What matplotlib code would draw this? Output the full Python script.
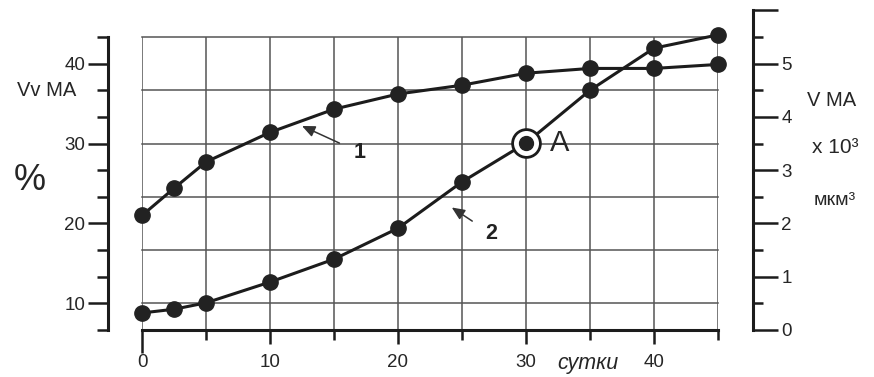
import numpy as np
import matplotlib
matplotlib.use("Agg")
import matplotlib.pyplot as plt

# ---------------- data ----------------
days = [0, 2.5, 5, 10, 15, 20, 25, 30, 35, 40, 45]
vv_ma_percent = [21.0, 24.4, 27.7, 31.4, 34.3, 36.2, 37.3, 38.8, 39.4, 39.4, 39.9]   # curve 1, left axis (%)
v_ma_e3 = [0.32, 0.39, 0.51, 0.90, 1.33, 1.91, 2.78, 3.51, 4.50, 5.29, 5.54]          # curve 2, right axis (x10^3 mkm^3)
highlight_day = 30

x_major = [0, 10, 20, 30, 40]
x_minor = [5, 15, 25, 35, 45]
x_ticklabels = ["0", "10", "20", "30", "40"]
left_major = [10, 20, 30, 40]
left_ticklabels = ["10", "20", "30", "40"]
right_major = [0, 1, 2, 3, 4, 5, 6]
right_ticklabels = ["0", "1", "2", "3", "4", "5", ""]

# ---------------- layout ----------------
W, H = 874, 377
fig = plt.figure(figsize=(W / 100, H / 100), dpi=100)
plt.rcParams['font.family'] = ['Liberation Sans', 'DejaVu Sans']

def fx(px):
    return px / W

def fy(py):
    return 1 - py / H

ax_left_px, ax_right_px = 142, 718
ax_top_px, ax_bot_px = 37, 330
left_lo, left_hi = 20 / 3, 130 / 3
ax = fig.add_axes([fx(ax_left_px), fy(ax_bot_px),
                   fx(ax_right_px - ax_left_px), (ax_bot_px - ax_top_px) / H])
ax.set_xlim(0, 45)
ax.set_ylim(left_lo, left_hi)

ink = '#1c1c1c'
txt = '#262626'
gridc = '#555555'

# grid
for v in np.arange(10, 45, 20 / 3):
    ax.axhline(v, color=gridc, lw=1.1, zorder=1, clip_on=False)
ax.set_xticks(x_major)
ax.set_xticks(x_minor, minor=True)
ax.set_xticklabels(x_ticklabels)
ax.grid(True, axis='x', which='both', color=gridc, lw=1.1, zorder=1)
ax.set_axisbelow(True)

for s in ['top', 'right']:
    ax.spines[s].set_visible(False)
ax.spines['bottom'].set_linewidth(2.2)
ax.spines['bottom'].set_color(ink)
ax.spines['left'].set_position(('outward', 24.5))
ax.spines['left'].set_linewidth(2.2)
ax.spines['left'].set_color(ink)

ax.set_yticks(left_major)
ax.set_yticklabels(left_ticklabels)
ax.set_yticks([v for v in np.arange(left_lo, left_hi + 0.01, 10 / 3)
               if min(abs(v - m) for m in left_major) > 0.1], minor=True)

ax.tick_params(axis='x', which='major', direction='out', length=10, width=1.8,
               color=ink, pad=7.5, labelsize=13.5, labelcolor=txt)
ax.tick_params(axis='x', which='minor', direction='out', length=7, width=1.8, color=ink)
ax.tick_params(axis='y', which='major', direction='out', length=14.5, width=1.8,
               color=ink, pad=2, labelsize=13.5, labelcolor=txt)
ax.tick_params(axis='y', which='minor', direction='out', length=8, width=1.8, color=ink)
ax.xaxis.get_major_ticks()[0].tick1line.set_markersize(16.5)

# curve 1
ax.plot(days, vv_ma_percent, color=ink, lw=2.2, marker='o', ms=11,
        mfc='#222222', mec='#222222', zorder=3, clip_on=False)

# right axis
r_max = 6
r_top_px = ax_bot_px - r_max * (ax_bot_px - ax_top_px) / 5.5
ax2 = fig.add_axes([fx(ax_left_px), fy(ax_bot_px),
                    fx(ax_right_px - ax_left_px), (ax_bot_px - r_top_px) / H])
ax2.patch.set_visible(False)
ax2.set_xlim(0, 45)
ax2.set_ylim(0, r_max)
for s in ['top', 'left', 'bottom']:
    ax2.spines[s].set_visible(False)
ax2.spines['right'].set_position(('outward', 25.2))
ax2.spines['right'].set_linewidth(2.2)
ax2.spines['right'].set_color(ink)
ax2.set_xticks([])
ax2.yaxis.tick_right()
ax2.set_yticks(right_major)
ax2.set_yticklabels(right_ticklabels)
ax2.set_yticks(np.arange(0.5, r_max, 1.0), minor=True)
ax2.tick_params(axis='y', which='major', direction='out', length=18, width=1.8,
                color=ink, pad=2.5, labelsize=13.5, labelcolor=txt)
ax2.tick_params(axis='y', which='minor', direction='out', length=7, width=1.8, color=ink)

ax2.plot(days, v_ma_e3, color=ink, lw=2.2, marker='o', ms=11,
         mfc='#222222', mec='#222222', zorder=3, clip_on=False)
hi = days.index(highlight_day)
ax2.plot(days[hi], v_ma_e3[hi], marker='o', ms=20, mfc='white', mec=ink, mew=2.0, zorder=4)
ax2.plot(days[hi], v_ma_e3[hi], marker='o', ms=10, mfc='#222222', mec='#222222', zorder=5)
ax2.text(days[hi] + 2.6, v_ma_e3[hi], "A", fontsize=21, color=txt,
         ha='center', va='center', zorder=5)

# curve labels with arrows
ax.annotate("1", xy=(12.5, 32.2), xytext=(17.0, 28.9), fontsize=15.5, fontweight='bold',
            color='#222222', ha='center', va='center',
            arrowprops=dict(arrowstyle='-|>,head_length=0.5,head_width=0.22',
                            color='#333333', lw=1.1, shrinkA=9, shrinkB=0))
ax.annotate("2", xy=(24.2, 22.0), xytext=(27.3, 18.7), fontsize=15.5, fontweight='bold',
            color='#222222', ha='center', va='center',
            arrowprops=dict(arrowstyle='-|>,head_length=0.5,head_width=0.22',
                            color='#333333', lw=1.1, shrinkA=9, shrinkB=0))

# axis titles
fig.text(fx(47), fy(91), "Vv MA", fontsize=14.5, color=txt, ha='center', va='center')
fig.text(fx(30), fy(181), "%", fontsize=26, color=txt, ha='center', va='center')
fig.text(fx(832), fy(101), "V MA", fontsize=14.5, color=txt, ha='center', va='center')
fig.text(fx(835), fy(147), "x 10³", fontsize=15, color=txt, ha='center', va='center')
fig.text(fx(835), fy(200), "мкм³", fontsize=14, color=txt, ha='center', va='center')
fig.text(fx(588), fy(363), "сутки", fontsize=15.5, style='italic', color=txt,
         ha='center', va='center')

fig.savefig("out.png", dpi=100, facecolor='white')
